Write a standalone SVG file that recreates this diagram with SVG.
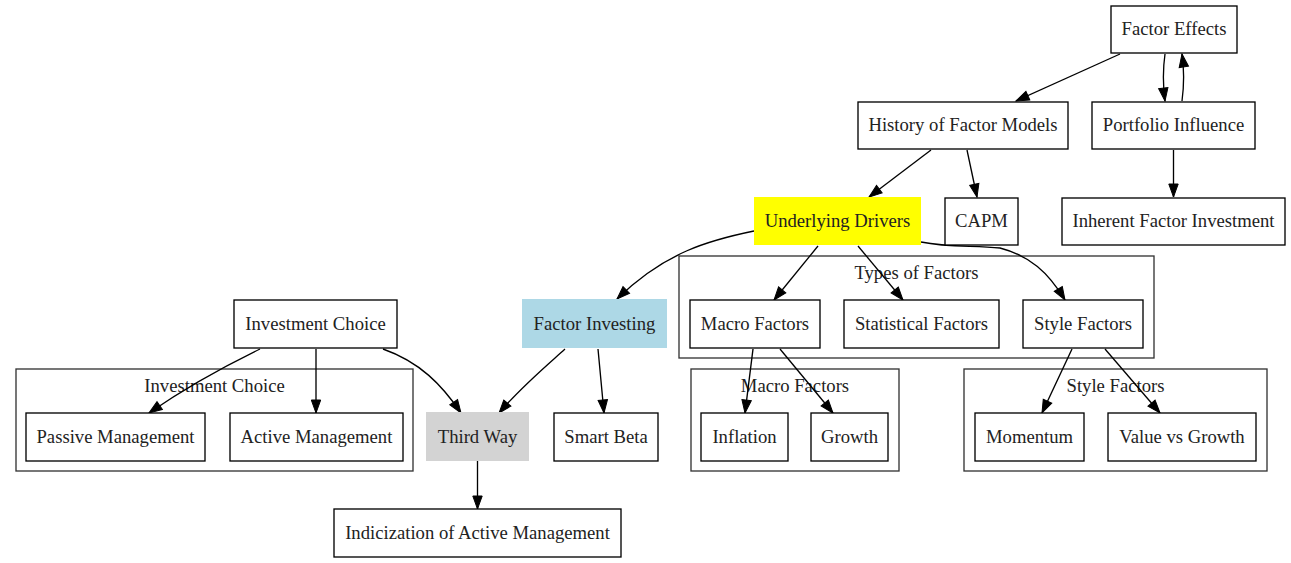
<svg xmlns="http://www.w3.org/2000/svg" width="1291" height="563" viewBox="0 0 1291 563">
<defs>
<marker id="ah" markerUnits="userSpaceOnUse" markerWidth="14" markerHeight="10" refX="13" refY="5" orient="auto" overflow="visible">
<path d="M0,0.3 L13,5 L0,9.7 Z" fill="#000" stroke="#000" stroke-width="1"/>
</marker>
<style>
text{font-family:"Liberation Serif","Times New Roman",serif;font-size:18.67px;fill:#222;text-anchor:middle}
.n{fill:#fff;stroke:#000;stroke-width:1.33}
.c{fill:none;stroke:#333;stroke-width:1.33}
#edges path{fill:none;stroke:#000;stroke-width:1.33;marker-end:url(#ah)}
</style>
</defs>
<rect width="1291" height="563" fill="#fff"/>
<g id="clusters">
<g id="cluster_types"><rect class="c" x="679" y="256" width="475" height="102"/><text x="916.5" y="279">Types of Factors</text></g>
<g id="cluster_invest"><rect class="c" x="16" y="369" width="397" height="102"/><text x="214.5" y="392">Investment Choice</text></g>
<g id="cluster_macro"><rect class="c" x="691" y="369" width="208" height="102"/><text x="795" y="392">Macro Factors</text></g>
<g id="cluster_style"><rect class="c" x="964" y="369" width="303" height="102"/><text x="1115.5" y="392">Style Factors</text></g>
</g>
<g id="edges">
<path d="M1120,54 L1016,101"/>
<path d="M1165,54 C1163,68 1163,86 1165,101"/>
<path d="M1182,101 C1184,86 1184,68 1182,54"/>
<path d="M931,150 L869,197"/>
<path d="M967,150 L977,197"/>
<path d="M1173.5,150 L1173.5,197"/>
<path d="M754,231 C710,240 665,252 617,299"/>
<path d="M818,246 L774,300"/>
<path d="M858,246 L903,300"/>
<path d="M921,242 C950,248 975,245 1000,248 C1030,256 1048,272 1065,300"/>
<path d="M565,349 C545,367 520,388 499,413"/>
<path d="M598,349 L604,413"/>
<path d="M260,349 C225,366 185,388 149,413"/>
<path d="M316,349 L316,413"/>
<path d="M383,349 C420,362 442,385 461,413"/>
<path d="M477.5,461 L477.5,509"/>
<path d="M753,349 L745,413"/>
<path d="M780,349 L833,413"/>
<path d="M1072,349 L1042,413"/>
<path d="M1105,349 L1160,413"/>
</g>
<g id="n_factor_effects"><rect class="n" x="1111" y="6" width="126" height="47"/><text x="1174" y="35">Factor Effects</text></g>
<g id="n_history"><rect class="n" x="858" y="102" width="210" height="47"/><text x="963" y="131">History of Factor Models</text></g>
<g id="n_portfolio"><rect class="n" x="1092" y="102" width="163" height="47"/><text x="1173.5" y="131">Portfolio Influence</text></g>
<g id="n_underlying"><rect x="754" y="197" width="167" height="48" fill="#ffff00"/><text x="837.5" y="227">Underlying Drivers</text></g>
<g id="n_capm"><rect class="n" x="945" y="198" width="73" height="47"/><text x="981.5" y="227">CAPM</text></g>
<g id="n_inherent"><rect class="n" x="1062" y="198" width="223" height="47"/><text x="1173.5" y="227">Inherent Factor Investment</text></g>
<g id="n_macro"><rect class="n" x="690" y="300" width="130" height="48"/><text x="755" y="330">Macro Factors</text></g>
<g id="n_statistical"><rect class="n" x="844" y="300" width="155" height="48"/><text x="921.5" y="330">Statistical Factors</text></g>
<g id="n_style"><rect class="n" x="1023" y="300" width="120" height="48"/><text x="1083" y="330">Style Factors</text></g>
<g id="n_factor_investing"><rect x="522" y="299" width="145" height="49" fill="#add8e6"/><text x="594.5" y="330">Factor Investing</text></g>
<g id="n_investment_choice"><rect class="n" x="234" y="300" width="163" height="48"/><text x="315.5" y="330">Investment Choice</text></g>
<g id="n_passive"><rect class="n" x="26" y="413" width="179" height="48"/><text x="115.5" y="443">Passive Management</text></g>
<g id="n_active"><rect class="n" x="230" y="413" width="173" height="48"/><text x="316.5" y="443">Active Management</text></g>
<g id="n_third_way"><rect x="426" y="412" width="103" height="49" fill="#d3d3d3"/><text x="477.5" y="443">Third Way</text></g>
<g id="n_smart_beta"><rect class="n" x="554" y="413" width="104" height="48"/><text x="606" y="443">Smart Beta</text></g>
<g id="n_inflation"><rect class="n" x="701" y="413" width="87" height="48"/><text x="744.5" y="443">Inflation</text></g>
<g id="n_growth"><rect class="n" x="811" y="413" width="77" height="48"/><text x="849.5" y="443">Growth</text></g>
<g id="n_momentum"><rect class="n" x="975" y="413" width="109" height="48"/><text x="1029.5" y="443">Momentum</text></g>
<g id="n_value"><rect class="n" x="1108" y="413" width="148" height="48"/><text x="1182" y="443">Value vs Growth</text></g>
<g id="n_indicization"><rect class="n" x="334" y="509" width="287" height="48"/><text x="477.5" y="539">Indicization of Active Management</text></g>
</svg>
